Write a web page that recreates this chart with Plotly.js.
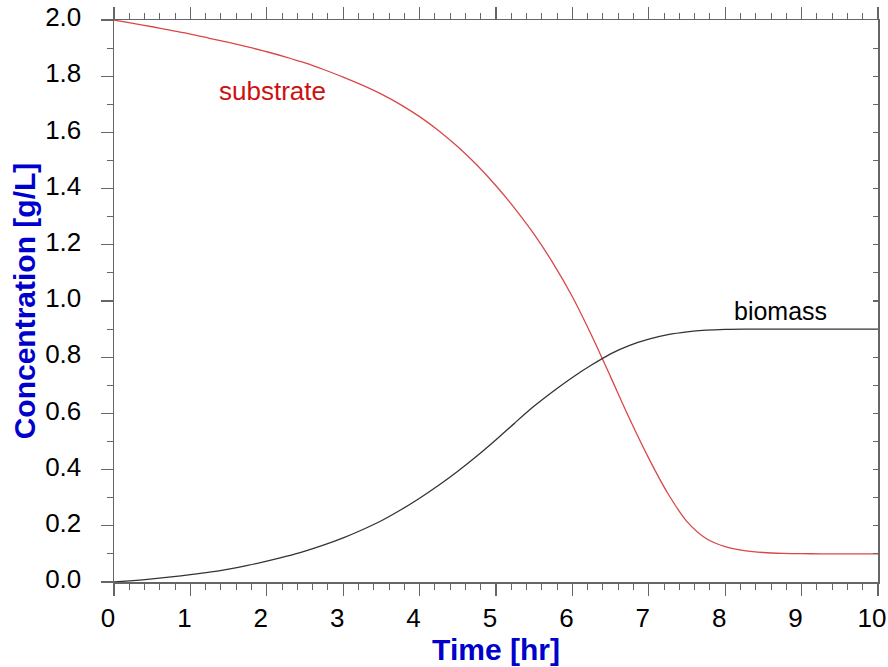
<!DOCTYPE html>
<html>
<head>
<meta charset="utf-8">
<script src="https://cdn.plot.ly/plotly-3.0.1.min.js"></script>
<style>html,body{margin:0;padding:0;background:#fff;}#chart{width:888px;height:667px;}</style>
</head>
<body>
<div id="chart"></div>
<script>
// Time [hr]
const time = [0, 0.25, 0.5, 0.75, 1, 1.25, 1.5, 1.75, 2, 2.25, 2.5, 2.75, 3, 3.25, 3.5, 3.75, 4, 4.25, 4.5, 4.75, 5, 5.25, 5.5, 5.75, 6, 6.25, 6.5, 6.75, 7, 7.25, 7.5, 7.75, 8, 8.25, 8.5, 8.75, 9, 9.25, 9.5, 9.75, 10];
// Substrate concentration [g/L]
const substrate = [2.000, 1.988, 1.976, 1.963, 1.950, 1.935, 1.920, 1.904, 1.887, 1.868, 1.847, 1.823, 1.797, 1.768, 1.736, 1.699, 1.656, 1.606, 1.549, 1.484, 1.410, 1.328, 1.237, 1.133, 1.015, 0.878, 0.730, 0.580, 0.440, 0.315, 0.215, 0.155, 0.126, 0.112, 0.105, 0.102, 0.101, 0.100, 0.100, 0.100, 0.100];
// Biomass concentration [g/L]
const biomass = [0.000, 0.005, 0.011, 0.018, 0.026, 0.035, 0.046, 0.059, 0.074, 0.091, 0.110, 0.132, 0.157, 0.186, 0.218, 0.256, 0.298, 0.344, 0.394, 0.448, 0.506, 0.567, 0.626, 0.679, 0.728, 0.772, 0.812, 0.842, 0.864, 0.880, 0.890, 0.896, 0.899, 0.900, 0.900, 0.900, 0.900, 0.900, 0.900, 0.900, 0.900];

const xTicks = [0,1,2,3,4,5,6,7,8,9,10];
const yTicks = [0.0,0.2,0.4,0.6,0.8,1.0,1.2,1.4,1.6,1.8,2.0];
const yTickText = yTicks.map(v => v.toFixed(1));

const traces = [
  {x: time, y: substrate, mode: 'lines', line: {color: '#d94848', width: 1.3, shape: 'spline', smoothing: 0.8}, name: 'substrate', hoverinfo: 'skip'},
  {x: time, y: biomass, mode: 'lines', line: {color: '#333333', width: 1.3, shape: 'spline', smoothing: 0.8}, name: 'biomass', hoverinfo: 'skip'}
];

const axisLine = '#666666';
const FONT = 'Liberation Sans, Arial, sans-serif';
const tickFont = {family: FONT, size: 26, color: '#000'};

const layout = {
  width: 888, height: 667,
  margin: {l: 114, r: 10, t: 20, b: 85},
  paper_bgcolor: '#fff', plot_bgcolor: '#fff',
  showlegend: false,
  xaxis: {
    range: [0, 10], tickmode: 'array', tickvals: xTicks, ticktext: xTicks.map(String),
    showgrid: false, zeroline: false, showline: true, linecolor: axisLine, linewidth: 1.5,
    ticks: 'outside', ticklen: 12, tickwidth: 1.3, tickcolor: axisLine, mirror: 'ticks',
    minor: {dtick: 0.2, ticks: 'outside', ticklen: 6, tickwidth: 1, tickcolor: axisLine},
    tickfont: tickFont, ticklabelshift: -6,
    title: {text: 'Time [hr]', font: {family: FONT, size: 30, color: '#0000cc', weight: 'bold'}, standoff: 0}
  },
  yaxis: {
    range: [0, 2], tickmode: 'array', tickvals: yTicks, ticktext: yTickText,
    showgrid: false, zeroline: false, showline: true, linecolor: axisLine, linewidth: 1.5,
    ticks: 'outside', ticklen: 12, tickwidth: 1.3, tickcolor: axisLine,
    minor: {dtick: 0.1, ticks: 'outside', ticklen: 6, tickwidth: 1, tickcolor: axisLine},
    tickfont: tickFont, ticklabelstandoff: 14, ticklabelshift: -3, ticklabeloverflow: 'allow',
    title: {text: 'Concentration [g/L]', font: {family: FONT, size: 30, color: '#0000cc', weight: 'bold'}, standoff: 0}
  },
  yaxis2: {
    overlaying: 'y', side: 'right', matches: 'y', range: [0, 2],
    tickmode: 'array', tickvals: yTicks, showticklabels: false,
    showgrid: false, zeroline: false, showline: true, linecolor: axisLine, linewidth: 1.5,
    ticks: 'inside', ticklen: 5, tickwidth: 1.3, tickcolor: axisLine,
    minor: {dtick: 0.1, ticks: 'inside', ticklen: 5, tickwidth: 1, tickcolor: axisLine}
  },
  annotations: [
    {x: 2.07, y: 1.747, xref: 'x', yref: 'y', text: 'substrate', showarrow: false,
     font: {family: FONT, size: 26, color: '#cc1111'}},
    {x: 8.72, y: 0.965, xref: 'x', yref: 'y', text: 'biomass', showarrow: false,
     font: {family: FONT, size: 25, color: '#000'}}
  ]
};

traces.push({x: [], y: [], yaxis: 'y2', mode: 'lines', hoverinfo: 'skip', showlegend: false});

Plotly.newPlot('chart', traces, layout, {staticPlot: true, displayModeBar: false});
</script>
</body>
</html>
